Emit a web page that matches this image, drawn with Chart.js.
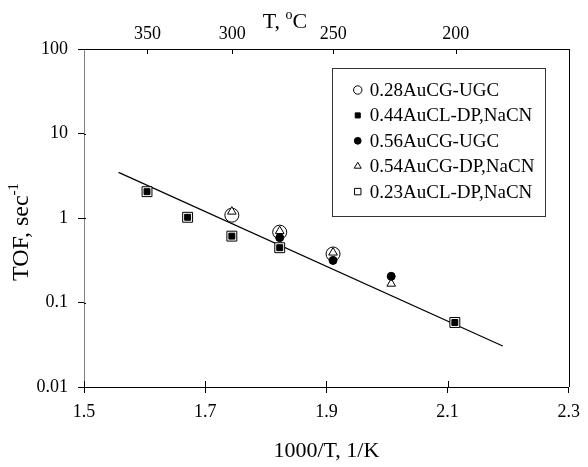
<!DOCTYPE html>
<html>
<head>
<meta charset="utf-8">
<script src="https://cdn.jsdelivr.net/npm/chart.js@4.4.0/dist/chart.umd.min.js"></script>
<style>
    body { margin: 0; background: #fff; }
    canvas { display: block; }
</style>
</head>
<body>
<canvas id="grafica" width="588" height="467"></canvas>
<script>
// --- DATOS: 1000/T (1/K) y TOF (1/s) ---
const xCirculoAbierto = [1.744, 1.823, 1.911];
const tofCirculoAbierto = [1.08, 0.68, 0.375];          // 0.28AuCG-UGC

const xCuadradoLleno = [1.604, 1.671, 1.744, 1.823, 2.112];
const tofCuadradoLleno = [2.05, 1.02, 0.61, 0.445, 0.058]; // 0.44AuCL-DP,NaCN

const xCirculoLleno = [1.823, 1.911, 2.007];
const tofCirculoLleno = [0.585, 0.315, 0.204];          // 0.56AuCG-UGC

const xTriangulo = [1.744, 1.823, 1.911, 2.007];
const tofTriangulo = [1.19, 0.70, 0.39, 0.167];          // 0.54AuCG-DP,NaCN

const xCuadradoAbierto = [1.604, 1.671, 1.744, 1.823, 2.112];
const tofCuadradoAbierto = [2.05, 1.02, 0.61, 0.445, 0.058]; // 0.23AuCL-DP,NaCN

// Ajuste de Arrhenius (extremos de la recta)
const xAjuste = [1.557, 2.191];
const tofAjuste = [3.47, 0.0306];

// Ejes
const ticksX = [1.5, 1.7, 1.9, 2.1, 2.3];
const ticksY = [0.01, 0.1, 1, 10, 100];
const temperaturasC = [350, 300, 250, 200];

const FUENTE = '"Liberation Serif", "Times New Roman", serif';

function puntos(xs, ys) {
    return xs.map((x, i) => ({ x: x, y: ys[i] }));
}

// Estilos de marcador (grafica y leyenda)
const marcadores = {
    circuloAbierto:  { pointStyle: 'circle',   radius: 7,   fill: '#fff' },
    cuadradoLleno:   { pointStyle: 'rect',     radius: 4.2, fill: '#000' },
    circuloLleno:    { pointStyle: 'circle',   radius: 4,   fill: '#000' },
    triangulo:       { pointStyle: 'triangle', radius: 5,   fill: '#fff' },
    cuadradoAbierto: { pointStyle: 'rect',     radius: 7,   fill: '#fff' }
};

function serie(label, tipo, xs, ys) {
    const m = marcadores[tipo];
    return {
        label: label,
        data: puntos(xs, ys),
        pointStyle: m.pointStyle,
        pointRadius: m.radius,
        pointHoverRadius: m.radius,
        pointBackgroundColor: m.fill,
        pointBorderColor: '#000',
        pointBorderWidth: 1,
        showLine: false
    };
}

// La leyenda va en este orden
const leyenda = [
    ['0.28AuCG-UGC', 'circuloAbierto', 0.6],
    ['0.44AuCL-DP,NaCN', 'cuadradoLleno', 0.85],
    ['0.56AuCG-UGC', 'circuloLleno', 0.85],
    ['0.54AuCG-DP,NaCN', 'triangulo', 0.8],
    ['0.23AuCL-DP,NaCN', 'cuadradoAbierto', 0.65]
];

// --- PLUGIN: marcas hacia dentro, marco, titulos y leyenda ---
const extras = {
    id: 'extras',
    afterDraw(chart) {
        const ctx = chart.ctx;
        const area = chart.chartArea;
        const sx = chart.scales.x, sy = chart.scales.y, sx2 = chart.scales.x2;

        ctx.save();
        ctx.strokeStyle = '#000';
        ctx.lineWidth = 1;
        ctx.beginPath();
        sx.ticks.forEach(t => {
            const px = Math.round(sx.getPixelForValue(t.value)) + 0.5;
            ctx.moveTo(px, area.bottom);
            ctx.lineTo(px, area.bottom - 6);
        });
        sx2.ticks.forEach(t => {
            const px = Math.round(sx2.getPixelForValue(t.value)) + 0.5;
            ctx.moveTo(px, area.top);
            ctx.lineTo(px, area.top + 5);
        });
        sy.ticks.forEach(t => {
            const py = Math.round(sy.getPixelForValue(t.value)) + 0.5;
            ctx.moveTo(area.left, py);
            ctx.lineTo(area.left + 2, py);
        });
        // lado derecho del marco
        ctx.moveTo(Math.round(area.right) + 0.5, area.top);
        ctx.lineTo(Math.round(area.right) + 0.5, area.bottom);
        ctx.stroke();

        ctx.fillStyle = '#000';
        ctx.textBaseline = 'alphabetic';

        // titulo eje x inferior
        ctx.font = '22px ' + FUENTE;
        ctx.textAlign = 'center';
        ctx.fillText('1000/T, 1/K', (area.left + area.right) / 2, 457);

        // titulo eje x superior: T, oC
        ctx.textAlign = 'left';
        ctx.font = '22px ' + FUENTE;
        const a = 'T, ', c = 'C';
        const wa = ctx.measureText(a).width, wc = ctx.measureText(c).width;
        ctx.font = '14px ' + FUENTE;
        const wo = ctx.measureText('o').width;
        let x0 = 285 - (wa + wo + wc) / 2;
        ctx.font = '22px ' + FUENTE;
        ctx.fillText(a, x0, 28);
        ctx.font = '14px ' + FUENTE;
        ctx.fillText('o', x0 + wa, 19);
        ctx.font = '22px ' + FUENTE;
        ctx.fillText(c, x0 + wa + wo, 28);

        // titulo eje y: TOF, sec-1
        ctx.save();
        ctx.translate(28, 232);
        ctx.rotate(-Math.PI / 2);
        ctx.font = '24px ' + FUENTE;
        const b = 'TOF, sec';
        const wb = ctx.measureText(b).width;
        ctx.font = '15px ' + FUENTE;
        const wsup = ctx.measureText('-1').width;
        const y0 = -(wb + wsup) / 2;
        ctx.font = '24px ' + FUENTE;
        ctx.fillText(b, y0, 0);
        ctx.font = '15px ' + FUENTE;
        ctx.fillText('-1', y0 + wb, -10);
        ctx.restore();

        // leyenda
        const cajaX = area.right - 237, cajaY = area.top + 19;
        ctx.strokeStyle = '#333';
        ctx.strokeRect(Math.round(cajaX) + 0.5, Math.round(cajaY) + 0.5, 213, 148);
        ctx.font = '19px ' + FUENTE;
        ctx.textBaseline = 'middle';
        leyenda.forEach((item, i) => {
            const m = marcadores[item[1]];
            const fy = cajaY + 22 + i * 25.4;
            ctx.fillStyle = m.fill;
            ctx.strokeStyle = '#000';
            Chart.helpers.drawPoint(ctx, {
                pointStyle: m.pointStyle, radius: m.radius * item[2], rotation: 0, borderWidth: 1
            }, cajaX + 26, fy);
            ctx.fillStyle = '#000';
            ctx.fillText(item[0], cajaX + 38, fy + 1);
        });
        ctx.restore();
    }
};

// --- GRAFICA ---
const ctx = document.getElementById('grafica').getContext('2d');
new Chart(ctx, {
    type: 'scatter',
    data: {
        datasets: [
            serie('0.56AuCG-UGC', 'circuloLleno', xCirculoLleno, tofCirculoLleno),
            serie('0.44AuCL-DP,NaCN', 'cuadradoLleno', xCuadradoLleno, tofCuadradoLleno),
            serie('0.54AuCG-DP,NaCN', 'triangulo', xTriangulo, tofTriangulo),
            serie('0.28AuCG-UGC', 'circuloAbierto', xCirculoAbierto, tofCirculoAbierto),
            serie('0.23AuCL-DP,NaCN', 'cuadradoAbierto', xCuadradoAbierto, tofCuadradoAbierto),
            {
                label: 'ajuste',
                data: puntos(xAjuste, tofAjuste),
                showLine: true,
                borderColor: '#000',
                borderWidth: 1.2,
                pointRadius: 0,
                pointHoverRadius: 0
            }
        ]
    },
    options: {
        responsive: false,
        animation: false,
        devicePixelRatio: 1,
        layout: { padding: { left: 0, right: 14, top: 0, bottom: 0 } },
        plugins: { legend: { display: false }, tooltip: { enabled: false } },
        scales: {
            x: {
                type: 'linear', position: 'bottom', min: 1.5, max: 2.3,
                afterBuildTicks: s => { s.ticks = ticksX.map(v => ({ value: v })); },
                afterFit: s => { s.height = 80; },
                ticks: {
                    callback: v => Number(v).toFixed(1),
                    font: { family: FUENTE, size: 18 }, color: '#000',
                    padding: 8, maxRotation: 0, autoSkip: false
                },
                grid: { drawOnChartArea: false, tickLength: 6, color: '#000' },
                border: { color: '#000', width: 1 }
            },
            x2: {
                type: 'linear', position: 'top', min: 1.5, max: 2.3,
                afterBuildTicks: s => {
                    s.ticks = temperaturasC.map(t => ({ value: 1000 / (t + 273.15) }));
                },
                afterFit: s => { s.height = 49; },
                ticks: {
                    callback: (v, i) => String(temperaturasC[i]),
                    font: { family: FUENTE, size: 18 }, color: '#000',
                    padding: 4, maxRotation: 0, autoSkip: false
                },
                grid: { drawOnChartArea: false, drawTicks: false, color: '#000' },
                border: { color: '#000', width: 1 }
            },
            y: {
                type: 'logarithmic', position: 'left', min: 0.01, max: 100,
                afterBuildTicks: s => { s.ticks = ticksY.map(v => ({ value: v })); },
                afterFit: s => { s.width = 84; },
                ticks: {
                    callback: v => String(v),
                    font: { family: FUENTE, size: 18 }, color: '#000',
                    padding: 10, autoSkip: false
                },
                grid: { drawOnChartArea: false, tickLength: 6, color: '#000' },
                border: { color: '#808080', width: 1 }
            }
        }
    },
    plugins: [extras]
});
</script>
</body>
</html>
